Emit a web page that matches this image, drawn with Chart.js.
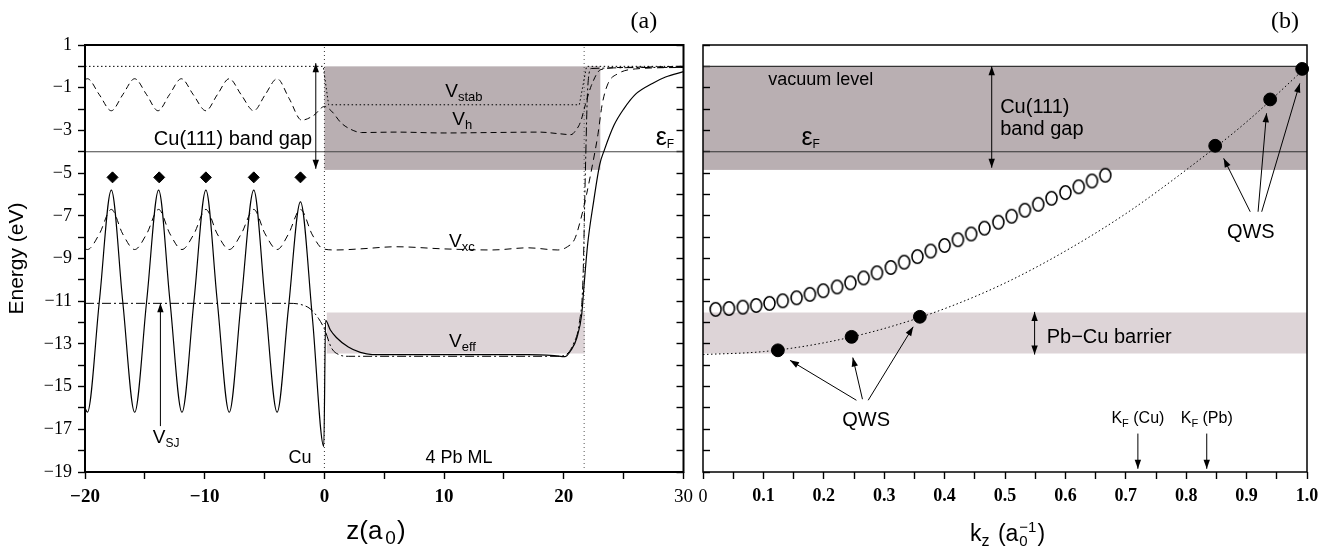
<!DOCTYPE html>
<html>
<head>
<meta charset="utf-8">
<script src="https://cdn.jsdelivr.net/npm/chart.js@4.4.1/dist/chart.umd.min.js"></script>
<style>
  body { margin: 0; background: #fff; width: 1326px; height: 546px; overflow: hidden; position: relative; }
  canvas { position: absolute; top: 0; }
  #panelA { left: 0; }
  #panelB { left: 690px; }
</style>
</head>
<body>
<canvas id="panelA" width="700" height="546"></canvas>
<canvas id="panelB" width="636" height="546"></canvas>
<script>
// ---- panel (a): potentials along z (a0), energy in eV ----
const zEff = [-20, -19.8, -18.8, -17.8, -16.85, -15.85, -14.85, -13.85, -12.9, -11.9, -10.9, -9.9, -8.95, -7.95, -6.95, -5.9, -4.95, -3.95, -3.0, -2.0, -1.0, -0.05, 0.1, 0.5, 1.0, 2.0, 3.0, 4.0, 10, 17, 19.2, 20.1, 20.6, 21.1, 21.5, 21.7, 22.0, 22.5, 23.0, 23.4, 24.2, 25.0, 26.0, 27.4, 28.5, 30];
const eEff = [-16.0, -16.2, -11.0, -5.8, -11.0, -16.2, -11.0, -5.8, -11.0, -16.2, -11.0, -5.8, -11.0, -16.2, -11.0, -5.8, -11.0, -16.2, -11.3, -6.35, -11.8, -17.8, -11.9, -12.35, -12.7, -13.15, -13.4, -13.5, -13.5, -13.5, -13.55, -13.6, -13.3, -12.7, -11.6, -10.2, -8.3, -6.3, -4.6, -3.9, -2.75, -2.0, -1.3, -0.8, -0.5, -0.25];

const zHartree = [-20, -19.8, -18.8, -17.8, -16.85, -15.85, -14.85, -13.9, -12.95, -11.95, -10.95, -9.9, -8.95, -7.95, -6.95, -5.9, -4.95, -3.95, -2.95, -1.9, -0.9, 0.0, 0.6, 1.4, 2.2, 3.1, 6, 10, 14, 18, 19.5, 20.6, 21.0, 21.4, 21.8, 22.3, 23.1, 25, 30];
const eHartree = [-0.62, -0.58, -1.33, -2.08, -1.33, -0.58, -1.33, -2.08, -1.33, -0.58, -1.33, -2.08, -1.33, -0.58, -1.33, -2.08, -1.33, -0.58, -1.5, -2.52, -2.3, -1.88, -2.1, -2.65, -2.95, -3.1, -3.08, -3.12, -3.1, -3.08, -3.15, -3.2, -3.0, -2.6, -1.8, -0.9, -0.15, -0.05, 0.0];

const zXc = [-20, -19.8, -18.8, -17.8, -16.85, -15.85, -14.85, -13.85, -12.9, -11.9, -10.9, -9.9, -8.95, -7.95, -6.95, -5.9, -4.95, -3.95, -3.0, -2.0, -1.0, -0.1, 1, 3, 6, 10, 14, 17, 19.5, 20.3, 20.9, 21.4, 21.9, 22.4, 22.85, 23.2, 23.7, 24.5, 26, 30];
const eXc = [-8.55, -8.58, -7.85, -6.7, -7.85, -8.58, -7.85, -6.7, -7.85, -8.58, -7.85, -6.7, -7.85, -8.58, -7.85, -6.7, -7.85, -8.58, -7.85, -6.7, -7.9, -8.55, -8.6, -8.55, -8.45, -8.55, -8.6, -8.5, -8.6, -8.45, -8.1, -7.2, -6.0, -4.6, -3.2, -1.8, -0.8, -0.35, -0.12, -0.05];

const zJellium = [-20, -3.0, -2.0, -1.2, -0.5, 0.0, 0.6, 1.2, 2.0, 10, 19.5, 20.2, 20.8, 21.3, 21.6, 21.8, 22.0, 22.3, 30];
const eJellium = [-11.1, -11.1, -11.15, -11.35, -11.8, -12.3, -13.2, -13.5, -13.58, -13.58, -13.58, -13.5, -13.0, -12.0, -10.0, -5.0, -1.0, -0.1, -0.05];

const zStab = [-20, -0.1, 0.35, 21.3, 21.9, 30];
const eStab = [0, 0, -1.8, -1.8, 0, 0];

const zIon = [-17.7, -13.8, -9.9, -5.9, -2.0];
const eIon = [-5.2, -5.2, -5.2, -5.2, -5.2];

const zBoundary = [0, 21.7];
const fermiLevel = -4.0;
const vacuumLevel = 0;
const gapBand = [0, -4.85];
const barrierBand = [-11.53, -13.45];

const zTickLabels = [-20, -10, 0, 10, 20, 30];
const eTickLabels = [1, -1, -3, -5, -7, -9, -11, -13, -15, -17, -19];

// ---- panel (b): energy vs k_z (1/a0) ----
const kBulk = [0.021, 0.043, 0.066, 0.088, 0.110, 0.132, 0.155, 0.177, 0.199, 0.222, 0.244, 0.266, 0.288, 0.311, 0.333, 0.355, 0.377, 0.400, 0.422, 0.444, 0.466, 0.489, 0.511, 0.533, 0.555, 0.577, 0.600, 0.622, 0.644, 0.666];
const eBulk = [-11.38, -11.34, -11.28, -11.20, -11.10, -10.98, -10.84, -10.68, -10.51, -10.33, -10.14, -9.91, -9.67, -9.42, -9.17, -8.91, -8.65, -8.39, -8.12, -7.85, -7.58, -7.30, -7.02, -6.74, -6.46, -6.18, -5.91, -5.64, -5.37, -5.10];

const kFree = [0, 0.1, 0.2, 0.3, 0.4, 0.5, 0.6, 0.7, 0.8, 0.9, 1.0];
const eFree = [-13.5, -13.36, -12.95, -12.28, -11.35, -10.15, -8.65, -6.9, -4.85, -2.6, 0.0];

const kQws = [0.124, 0.246, 0.359, 0.848, 0.939, 0.992];
const eQws = [-13.3, -12.67, -11.73, -3.72, -1.55, -0.12];

const kFermiCu = 0.720;
const kFermiPb = 0.834;

const kTickLabels = [0, 0.1, 0.2, 0.3, 0.4, 0.5, 0.6, 0.7, 0.8, 0.9, 1.0];

// ---- drawing helpers ----
const SANS = '"Liberation Sans", Arial, sans-serif';
const SERIF = '"Liberation Serif", "Times New Roman", serif';
const DARK = '#b9afb2';
const LIGHT = '#ddd4d7';
const E_MIN = -19, E_MAX = 1;

const pts = (xs, ys) => xs.map((v, i) => ({ x: v, y: ys[i] }));
const minus = v => (v < 0 ? '\u2212' + Math.abs(v) : String(v));

function line(xs, ys, dash, extra) {
  return Object.assign({
    data: pts(xs, ys), borderColor: '#000', borderWidth: 1, borderDash: dash,
    pointRadius: 0, fill: false, cubicInterpolationMode: 'monotone'
  }, extra);
}

function straight(xs, ys, dash, color, width) {
  return line(xs, ys, dash, { cubicInterpolationMode: 'default', tension: 0, borderColor: color, borderWidth: width });
}

const fontOf = p => `${p.b ? 'bold ' : ''}${p.s}px ${p.f || SANS}`;

function rich(ctx, x, y, parts, align) {
  let w = 0;
  parts.forEach(p => { ctx.font = fontOf(p); w += ctx.measureText(p.t).width + (p.dx || 0); });
  let cx = align === 'center' ? x - w / 2 : x;
  ctx.textAlign = 'left';
  ctx.textBaseline = 'alphabetic';
  parts.forEach(p => {
    ctx.font = fontOf(p);
    cx += p.dx || 0;
    ctx.fillText(p.t, cx, y + (p.dy || 0));
    cx += ctx.measureText(p.t).width;
  });
}

function head(ctx, x1, y1, x2, y2) {
  const a = Math.atan2(y2 - y1, x2 - x1), L = 9, W = 3.2;
  ctx.beginPath();
  ctx.moveTo(x2, y2);
  ctx.lineTo(x2 - L * Math.cos(a) + W * Math.sin(a), y2 - L * Math.sin(a) - W * Math.cos(a));
  ctx.lineTo(x2 - L * Math.cos(a) - W * Math.sin(a), y2 - L * Math.sin(a) + W * Math.cos(a));
  ctx.closePath();
  ctx.fill();
}

function arrow(ctx, p1, p2, both) {
  ctx.beginPath();
  ctx.moveTo(p1[0], p1[1]);
  ctx.lineTo(p2[0], p2[1]);
  ctx.stroke();
  head(ctx, p1[0], p1[1], p2[0], p2[1]);
  if (both) head(ctx, p2[0], p2[1], p1[0], p1[1]);
}

function band(ctx, x, y, x0, x1, range, color) {
  const l = x.getPixelForValue(x0), r = x.getPixelForValue(x1);
  const t = y.getPixelForValue(range[0]), b = y.getPixelForValue(range[1]);
  ctx.fillStyle = color;
  ctx.fillRect(l, t, r - l, b - t);
}

function frame(chart, width) {
  const { ctx, chartArea: a } = chart;
  ctx.save();
  ctx.strokeStyle = '#000';
  ctx.lineWidth = width;
  ctx.strokeRect(a.left, a.top, a.width, a.height);
  ctx.restore();
}

const tickGrid = len => ({ drawOnChartArea: false, tickLength: len, tickColor: '#000', tickWidth: 1.4 });
const baseOptions = {
  responsive: false, animation: false, devicePixelRatio: 1, events: [],
  plugins: { legend: { display: false }, tooltip: { enabled: false } }
};

// ---- panel (a) ----
const decorA = {
  id: 'decorA',
  beforeDraw(chart) {
    const { ctx, chartArea: a, scales: { x, y } } = chart;
    ctx.save();
    ctx.beginPath();
    ctx.rect(a.left, a.top, a.width, a.height);
    ctx.clip();
    band(ctx, x, y, 0, 23.05, gapBand, DARK);
    band(ctx, x, y, 0.2, 21.75, barrierBand, LIGHT);
    ctx.restore();
  },
  afterDatasetsDraw(chart) {
    const { ctx, chartArea: a, scales: { x, y } } = chart;
    const at = (zv, ev) => [x.getPixelForValue(zv), y.getPixelForValue(ev)];
    frame(chart, 2);
    ctx.save();
    ctx.fillStyle = '#000';
    ctx.strokeStyle = '#000';
    ctx.lineWidth = 1;

    let p = at(-7.64, -3.68);
    rich(ctx, p[0], p[1], [{ t: 'Cu(111) band gap', s: 20 }], 'center');
    p = at(10.1, -1.42);
    rich(ctx, p[0], p[1], [{ t: 'V', s: 19 }, { t: 'stab', s: 13, dy: 4 }]);
    p = at(10.68, -2.75);
    rich(ctx, p[0], p[1], [{ t: 'V', s: 19 }, { t: 'h', s: 13, dy: 4 }]);
    p = at(27.68, -3.68);
    rich(ctx, p[0], p[1], [{ t: '\u03b5', s: 25 }, { t: 'F', s: 12, dy: 3 }]);
    p = at(10.41, -8.45);
    rich(ctx, p[0], p[1], [{ t: 'V', s: 19 }, { t: 'xc', s: 13, dy: 4 }]);
    p = at(10.41, -13.13);
    rich(ctx, p[0], p[1], [{ t: 'V', s: 19 }, { t: 'eff', s: 13, dy: 4 }]);
    p = at(-14.34, -17.66);
    rich(ctx, p[0], p[1], [{ t: 'V', s: 19 }, { t: 'SJ', s: 12, dy: 4 }]);
    p = at(-3.0, -18.6);
    rich(ctx, p[0], p[1], [{ t: 'Cu', s: 18 }]);
    p = at(8.44, -18.6);
    rich(ctx, p[0], p[1], [{ t: '4 Pb ML', s: 18 }]);

    arrow(ctx, at(-0.72, 0.15), at(-0.72, -4.8), true);
    arrow(ctx, at(-13.7, -16.85), at(-13.7, -11.1), false);

    // panel letter and axis title
    rich(ctx, a.right - 53, 28, [{ t: '(a)', s: 24, f: SERIF }]);
    const cx = (a.left + a.right) / 2;
    rich(ctx, cx - 38, 539, [{ t: 'z(a', s: 26 }, { t: '0', s: 19, dy: 5, dx: 3 }, { t: ')', s: 26, dx: 1 }]);
    ctx.restore();
  }
};

new Chart(document.getElementById('panelA'), {
  type: 'line',
  data: {
    datasets: [
      { data: pts(zIon, eIon), showLine: false, pointStyle: 'rectRot', pointRadius: 5.5,
        pointBackgroundColor: '#000', pointBorderColor: '#000', pointBorderWidth: 1 },
      line(zEff, eEff, [], { borderWidth: 1.2 }),
      line(zHartree, eHartree, [6, 4]),
      line(zXc, eXc, [7, 5]),
      line(zJellium, eJellium, [9, 3, 2, 3]),
      straight(zStab, eStab, [1.5, 2.5], '#000', 1),
      straight([zBoundary[0], zBoundary[0]], [E_MIN, E_MAX], [1, 3], '#333', 1),
      straight([zBoundary[1], zBoundary[1]], [E_MIN, E_MAX], [1, 3], '#555', 1),
      straight([-20, 30], [fermiLevel, fermiLevel], [], '#444', 1.2)
    ]
  },
  options: Object.assign({}, baseOptions, {
    layout: { padding: { top: 45, right: 12, bottom: 0, left: 0 } },
    scales: {
      x: {
        type: 'linear', min: -20, max: 30,
        afterFit: s => { s.height = 74; },
        ticks: {
          stepSize: 5, autoSkip: false, maxRotation: 0, padding: 7, color: '#000',
          callback: v => (zTickLabels.includes(v) ? minus(v) : ''),
          font: c => ({ family: SERIF, size: 19, weight: c.tick && c.tick.value === 30 ? 'normal' : 'bold' })
        },
        grid: tickGrid(7), border: { display: false }
      },
      y: {
        type: 'linear', min: E_MIN, max: E_MAX,
        afterFit: s => { s.width = 85; },
        ticks: {
          stepSize: 1, autoSkip: false, padding: 6, color: '#000',
          callback: v => (eTickLabels.includes(v) ? minus(v) : ''),
          font: { family: SERIF, size: 18 }
        },
        title: { display: true, text: 'Energy (eV)', color: '#000', font: { family: SANS, size: 21 }, padding: { top: 5, bottom: 0 } },
        grid: tickGrid(7), border: { display: false }
      },
      yr: {
        type: 'linear', position: 'right', min: E_MIN, max: E_MAX,
        afterFit: s => { s.width = 0; },
        ticks: { stepSize: 1, display: false },
        grid: tickGrid(-7), border: { display: false }
      }
    }
  }),
  plugins: [decorA]
});

// ---- panel (b) ----
const ring = document.createElement('canvas');
ring.width = 15;
ring.height = 17;
(() => {
  const c = ring.getContext('2d');
  c.strokeStyle = '#000';
  c.lineWidth = 1.6;
  c.beginPath();
  c.ellipse(7.5, 8.5, 5.5, 6.7, 0, 0, Math.PI * 2);
  c.stroke();
})();

const decorB = {
  id: 'decorB',
  beforeDraw(chart) {
    const { ctx, chartArea: a, scales: { x, y } } = chart;
    ctx.save();
    ctx.beginPath();
    ctx.rect(a.left, a.top, a.width, a.height);
    ctx.clip();
    band(ctx, x, y, 0, 1, gapBand, DARK);
    band(ctx, x, y, 0, 1, barrierBand, LIGHT);
    ctx.restore();
  },
  afterDatasetsDraw(chart) {
    const { ctx, chartArea: a, scales: { x, y } } = chart;
    const at = (kv, ev) => [x.getPixelForValue(kv), y.getPixelForValue(ev)];
    frame(chart, 1.5);
    ctx.save();
    ctx.fillStyle = '#000';
    ctx.strokeStyle = '#000';
    ctx.lineWidth = 1;

    let p = at(0.108, -0.87);
    rich(ctx, p[0], p[1], [{ t: 'vacuum level', s: 18 }]);
    p = at(0.163, -3.68);
    rich(ctx, p[0], p[1], [{ t: '\u03b5', s: 25 }, { t: 'F', s: 12, dy: 3 }]);
    p = at(0.492, -2.2);
    rich(ctx, p[0], p[1], [{ t: 'Cu(111)', s: 20 }]);
    p = at(0.492, -3.22);
    rich(ctx, p[0], p[1], [{ t: 'band gap', s: 20 }]);
    p = at(0.569, -12.96);
    rich(ctx, p[0], p[1], [{ t: 'Pb\u2212Cu barrier', s: 20 }]);
    p = at(0.27, -16.85);
    rich(ctx, p[0], p[1], [{ t: 'QWS', s: 20 }], 'center');
    p = at(0.907, -8.04);
    rich(ctx, p[0], p[1], [{ t: 'QWS', s: 20 }], 'center');
    p = at(kFermiCu, -16.7);
    rich(ctx, p[0], p[1], [{ t: 'K', s: 16 }, { t: 'F', s: 11, dy: 4 }, { t: ' (Cu)', s: 16 }], 'center');
    p = at(kFermiPb, -16.7);
    rich(ctx, p[0], p[1], [{ t: 'K', s: 16 }, { t: 'F', s: 11, dy: 4 }, { t: ' (Pb)', s: 16 }], 'center');

    arrow(ctx, at(0.478, vacuumLevel), at(0.478, -4.75), true);
    arrow(ctx, at(0.549, -11.5), at(0.549, -13.5), true);
    arrow(ctx, at(kFermiCu, -17.2), at(kFermiCu, -18.85), false);
    arrow(ctx, at(kFermiPb, -17.2), at(kFermiPb, -18.85), false);
    arrow(ctx, at(0.254, -15.64), at(0.144, -13.77), false);
    arrow(ctx, at(0.264, -15.59), at(0.248, -13.64), false);
    arrow(ctx, at(0.2735, -15.64), at(0.348, -12.2), false);
    arrow(ctx, at(0.906, -6.81), at(0.862, -4.31), false);
    arrow(ctx, at(0.919, -6.81), at(0.933, -2.2), false);
    arrow(ctx, at(0.925, -6.81), at(0.988, -0.8), false);

    rich(ctx, a.right - 36, 28, [{ t: '(b)', s: 24, f: SERIF }]);

    // k_z (a0^-1) axis title
    const cx = (a.left + a.right) / 2 - 35;
    const base = 541;
    rich(ctx, cx, base, [{ t: 'k', s: 23 }, { t: 'z', s: 16, dy: 5 }, { t: ' (a', s: 23, dx: 2 }]);
    ctx.font = fontOf({ t: 'k', s: 23 });
    let w = ctx.measureText('k').width;
    ctx.font = fontOf({ s: 16 });
    w += ctx.measureText('z').width;
    ctx.font = fontOf({ s: 23 });
    w += ctx.measureText(' (a').width + 2;
    const sx = cx + w + 1;
    rich(ctx, sx, base, [{ t: '0', s: 15, dy: 5 }]);
    rich(ctx, sx, base, [{ t: '\u22121', s: 15, dy: -9 }]);
    ctx.font = fontOf({ s: 15 });
    const sw = ctx.measureText('\u22121').width;
    rich(ctx, sx + sw + 1, base, [{ t: ')', s: 23 }]);
    ctx.restore();
  }
};

new Chart(document.getElementById('panelB'), {
  type: 'line',
  data: {
    datasets: [
      { data: pts(kQws, eQws), showLine: false, pointStyle: 'circle', pointRadius: 6.4,
        pointBackgroundColor: '#000', pointBorderColor: '#000', clip: false },
      { data: pts(kBulk, eBulk), showLine: false, pointStyle: ring, pointRadius: 6 },
      line(kFree, eFree, [1.5, 2.5], { borderWidth: 1 }),
      straight([0, 1], [fermiLevel, fermiLevel], [], '#333', 1.2),
      straight([0, 1], [vacuumLevel, vacuumLevel], [], '#333', 1.2)
    ]
  },
  options: Object.assign({}, baseOptions, {
    layout: { padding: { top: 45, right: 19, bottom: 0, left: 0 } },
    scales: {
      x: {
        type: 'linear', min: 0, max: 1,
        afterFit: s => { s.height = 74; },
        ticks: {
          stepSize: 0.05, autoSkip: false, maxRotation: 0, padding: 7, color: '#000',
          callback: v => {
            const t = kTickLabels.find(k => Math.abs(k - v) < 1e-6);
            if (t === undefined) return '';
            return t === 0 ? '0' : t.toFixed(1);
          },
          font: c => ({ family: SERIF, size: 18, weight: c.tick && Math.abs(c.tick.value) < 1e-6 ? 'normal' : 'bold' })
        },
        grid: tickGrid(7), border: { display: false }
      },
      y: {
        type: 'linear', min: E_MIN, max: E_MAX,
        afterFit: s => { s.width = 13; },
        ticks: { stepSize: 1, display: false },
        grid: tickGrid(-7), border: { display: false }
      }
    }
  }),
  plugins: [decorB]
});
</script>
</body>
</html>
